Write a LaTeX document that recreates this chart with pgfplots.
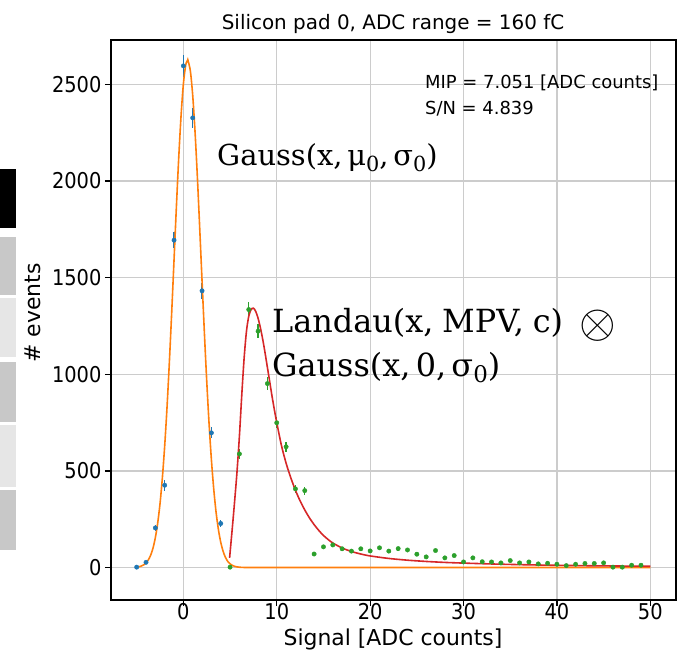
\documentclass[border=0pt]{standalone}
\usepackage{fontspec}
\setmainfont{DejaVu Sans}
\newfontfamily\annfont{DejaVu Serif}
\usepackage{pgfplots}
\pgfplotsset{compat=1.18}
\definecolor{mblue}{HTML}{1F77B4}
\definecolor{morange}{HTML}{FF7F0E}
\definecolor{mgreen}{HTML}{2CA02C}
\definecolor{mred}{HTML}{D62728}
\definecolor{boxgray}{HTML}{C8C8C8}
\definecolor{boxlight}{HTML}{E6E6E6}
\newcommand\sub[1]{\raisebox{-0.35ex}{\scalebox{0.72}{#1}}}
\begin{document}
\begin{tikzpicture}
\useasboundingbox (-111bp,-51bp) rectangle (566bp,600bp);
% decorative boxes at the left edge of the screenshot
\fill[black]    (-111bp,372bp) rectangle (-95bp,431bp);
\fill[boxgray]  (-111bp,305bp) rectangle (-95bp,363bp);
\fill[boxlight] (-111bp,243bp) rectangle (-95bp,302bp);
\fill[boxgray]  (-111bp,178bp) rectangle (-95bp,238bp);
\fill[boxlight] (-111bp,113bp) rectangle (-95bp,175bp);
\fill[boxgray]  (-111bp,50bp)  rectangle (-95bp,110bp);
\begin{axis}[
  at={(0,0)}, anchor=south west, scale only axis,
  width=565bp, height=560bp,
  xmin=-7.75, xmax=52.75, ymin=-168, ymax=2730,
  xtick={0,10,20,30,40,50}, ytick={0,500,1000,1500,2000,2500},
  tick pos=left, tick align=outside, major tick length=6bp,
  every tick/.style={black, line width=1.2bp},
  grid=major, grid style={line width=1.3bp, color=black!20},
  axis line style={line width=1.8bp, black},
  tick label style={font=\fontsize{19.5}{20}\selectfont, yscale=1.12},
  xticklabel style={inner sep=0pt, yshift=3bp},
  /pgf/number format/assume math mode=true,
  /pgf/number format/1000 sep={},
]
% pedestal data (blue)
\addplot[only marks, mark=*, color=mblue, mark size=2.2bp,
  error bars/.cd, y dir=both, y explicit, error mark=none,
  error bar style={line width=1.4bp, color=mblue}]
coordinates {
(-5,2) +- (0,2)
(-4,27) +- (0,5)
(-3,205) +- (0,15)
(-2,426) +- (0,28)
(-1,1694) +- (0,42)
(0,2596) +- (0,55)
(1,2327) +- (0,50)
(2,1432) +- (0,40)
(3,697) +- (0,28)
(4,228) +- (0,16)
};
% Gaussian fit (orange)
\addplot[color=morange, line width=1.6bp, smooth] coordinates {
(-5,2.2) (-4.75,4.2) (-4.5,7.7) (-4.25,13.7) (-4,23.7) (-3.75,39.6) (-3.5,64.2)
(-3.25,101) (-3,155) (-2.75,230) (-2.5,331) (-2.25,464) (-2,630) (-1.75,830)
(-1.5,1063) (-1.25,1320) (-1,1592) (-0.75,1864) (-0.5,2118) (-0.25,2336)
(0,2502) (0.25,2600) (0.45,2625) (0.5,2623) (0.75,2569) (1,2443) (1.25,2254)
(1.5,2020) (1.75,1756) (2,1483) (2.25,1215) (2.5,966) (2.75,746) (3,559)
(3.25,407) (3.5,287) (3.75,197) (4,131) (4.25,85) (4.5,53) (4.75,32) (5,19)
(5.25,11) (5.5,6) (5.75,3.3) (6,1.7) (6.5,0.4) (7,0) (10,0) (50,0)
};
% signal data (green)
\addplot[only marks, mark=*, color=mgreen, mark size=2.2bp,
  error bars/.cd, y dir=both, y explicit, error mark=none,
  error bar style={line width=1.4bp, color=mgreen}]
coordinates {
(5,2) +- (0,2)
(6,588) +- (0,25)
(7,1335) +- (0,38)
(8,1223) +- (0,36)
(9,952) +- (0,32)
(10,749) +- (0,28)
(11,625) +- (0,26)
(12,407) +- (0,21)
(13,398) +- (0,21)
(14,70) +- (0,9)
(15,107) +- (0,11)
(16,117) +- (0,11)
(17,97) +- (0,10)
(18,85) +- (0,10)
(19,97) +- (0,10)
(20,86) +- (0,10)
(21,102) +- (0,10)
(22,85) +- (0,10)
(23,98) +- (0,10)
(24,91) +- (0,10)
(25,69) +- (0,9)
(26,55) +- (0,8)
(27,88) +- (0,10)
(28,50) +- (0,7)
(29,62) +- (0,8)
(30,29) +- (0,6)
(31,50) +- (0,7)
(32,30) +- (0,6)
(33,29) +- (0,6)
(34,24) +- (0,5)
(35,36) +- (0,6)
(36,24) +- (0,5)
(37,29) +- (0,6)
(38,19) +- (0,5)
(39,22) +- (0,5)
(40,17) +- (0,4)
(41,10) +- (0,3)
(42,17) +- (0,4)
(43,21) +- (0,5)
(44,21) +- (0,5)
(45,24) +- (0,5)
(46,2) +- (0,2)
(47,2) +- (0,2)
(48,12) +- (0,4)
(49,12) +- (0,4)
};
% Landau (x) Gauss fit (red)
\addplot[color=mred, line width=1.6bp, smooth] coordinates {
(4.95,50) (5.25,210) (5.5,350) (5.75,500) (6,680) (6.25,890) (6.5,1080)
(6.75,1220) (7,1300) (7.25,1335) (7.5,1342) (7.75,1325) (8,1290) (8.25,1240)
(8.5,1180) (8.75,1110) (9,1035) (9.25,960) (9.5,885) (9.75,815) (10,750)
(10.5,632) (11,540) (11.5,465) (12,400) (12.5,345) (13,298) (13.5,257)
(14,222) (14.5,192) (15,166) (15.5,145) (16,127) (17,101) (18,83) (19,70)
(20,60) (22,47) (24,38) (26,31.5) (28,26.5) (30,23) (33,18.5) (36,15)
(40,11.5) (45,8.5) (50,6.5)
};
\end{axis}
% texts
\node[anchor=base, inner sep=0, font=\fontsize{20}{20}\selectfont] at (282bp,570bp) {Silicon pad 0, ADC range = 160 fC};
\node[anchor=base, inner sep=0, font=\fontsize{22}{22}\selectfont] at (282bp,-45bp) {Signal [ADC counts]};
\node[rotate=90, inner sep=0, font=\fontsize{22}{22}\selectfont] at (-78bp,287bp) {\# events};
\node[anchor=base west, inner sep=0, font=\fontsize{18}{18}\selectfont] at (314bp,511.7bp) {MIP = 7.051 [ADC counts]};
\node[anchor=base west, inner sep=0, font=\fontsize{18}{18}\selectfont] at (314bp,485bp) {S/N = 4.839};
\node[anchor=base west, inner sep=0, font=\annfont\fontsize{29}{29}\selectfont] at (106bp,434bp) {Gauss(x,\,μ\sub{0},\,σ\sub{0})};
\node[anchor=base west, inner sep=0, font=\annfont\fontsize{32}{32}\selectfont] at (161bp,267bp) {Landau(x,\;MPV,\;c)\hspace{0.5em}\raisebox{-0.3ex}{\scalebox{1.9}{$\otimes$}}};
\node[anchor=base west, inner sep=0, font=\annfont\fontsize{32}{32}\selectfont] at (161bp,223bp) {Gauss(x,\,0,\,σ\sub{0})};
\end{tikzpicture}
\end{document}
